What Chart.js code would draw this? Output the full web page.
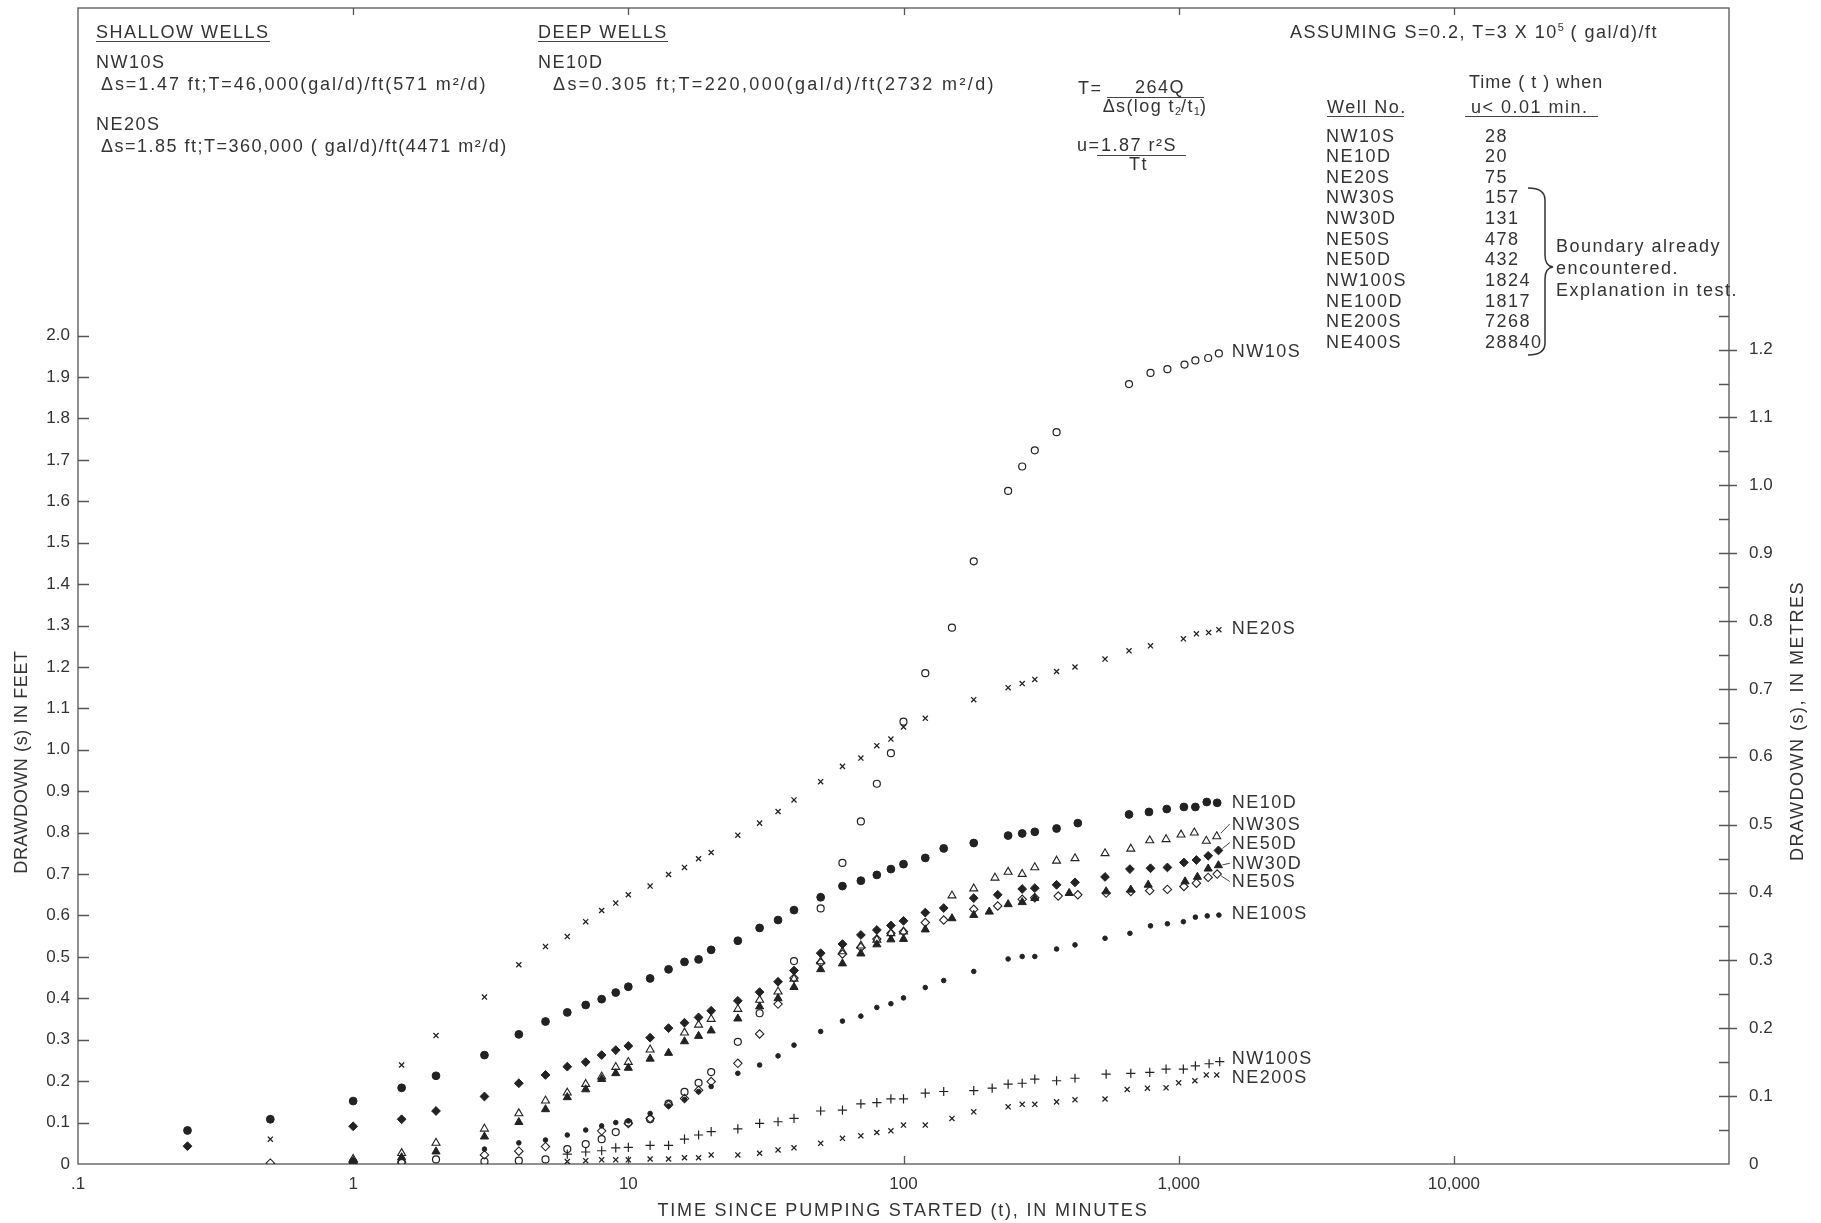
<!DOCTYPE html>
<html>
<head>
<meta charset="utf-8">
<title>Drawdown vs time since pumping started</title>
<script src="https://cdn.jsdelivr.net/npm/chart.js@4.4.1/dist/chart.umd.min.js"></script>
<style>
  html, body { margin: 0; padding: 0; background: #fff; }
  #wrap { position: relative; width: 1821px; height: 1223px; overflow: hidden; }
  #c { position: absolute; left: 0; top: 0; }
  .t { position: absolute; font-family: 'Liberation Sans', Arial, sans-serif; font-size: 18px;
       line-height: 18px; letter-spacing: 1.5px; color: #333; white-space: pre; }
  .u { border-bottom: 1.3px solid #444; }
  .line { position: absolute; height: 0; border-top: 1.3px solid #444; }
  sub { font-size: 11px; vertical-align: -3px; line-height: 0; letter-spacing: 0; }
  sup { font-size: 11px; vertical-align: 7px; line-height: 0; letter-spacing: 0; }
  svg { position: absolute; left: 0; top: 0; }
</style>
</head>
<body>
<div id="wrap">
  <canvas id="c" width="1821" height="1223"></canvas>

  <!-- shallow wells -->
  <div class="t u" style="left:96px;top:23px;">SHALLOW WELLS</div>
  <div class="t" style="left:96px;top:53px;">NW10S</div>
  <div class="t" style="left:101px;top:75px;letter-spacing:1.9px;">Δs=1.47 ft;T=46,000(gal/d)/ft(571 m²/d)</div>
  <div class="t" style="left:96px;top:115px;">NE20S</div>
  <div class="t" style="left:101px;top:137px;">Δs=1.85 ft;T=360,000 ( gal/d)/ft(4471 m²/d)</div>

  <!-- deep wells -->
  <div class="t u" style="left:538px;top:23px;">DEEP WELLS</div>
  <div class="t" style="left:538px;top:53px;">NE10D</div>
  <div class="t" style="left:553px;top:75px;letter-spacing:2.4px;">Δs=0.305 ft;T=220,000(gal/d)/ft(2732 m²/d)</div>

  <!-- formulas -->
  <div class="t" style="left:1078px;top:79px;">T=</div>
  <div class="t" style="left:1112px;top:78px;width:96px;text-align:center;">264Q</div>
  <div class="line" style="left:1107px;top:97px;width:97px;"></div>
  <div class="t" style="left:1094px;top:97px;width:122px;text-align:center;letter-spacing:1.4px;">Δs(log t<sub>2</sub>/t<sub>1</sub>)</div>
  <div class="t" style="left:1077px;top:136px;">u=</div>
  <div class="t" style="left:1101px;top:136px;">1.87 r²S</div>
  <div class="line" style="left:1097px;top:155px;width:89px;"></div>
  <div class="t" style="left:1094px;top:155px;width:89px;text-align:center;">Tt</div>

  <!-- assumptions and table -->
  <div class="t" style="left:1290px;top:23px;">ASSUMING S=0.2, T=3 X 10<sup>5</sup> ( gal/d)/ft</div>
  <div class="t" style="left:1469px;top:73px;letter-spacing:1px;">Time ( t ) when</div>
  <div class="t u" style="left:1327px;top:98px;width:77px;">Well No.</div>
  <div class="t u" style="left:1465px;top:98px;width:127px;padding-left:6px;">u&lt; 0.01 min.</div>
  <div id="table"></div>
  <div class="t" style="left:1556px;top:237px;">Boundary already</div>
  <div class="t" style="left:1556px;top:259px;">encountered.</div>
  <div class="t" style="left:1556px;top:281px;">Explanation in test.</div>
  <svg width="1821" height="1223">
    <path d="M1528,188 Q1545,188 1545,200 L1545,255 Q1545,266 1553,267 Q1545,268 1545,279 L1545,343 Q1545,355 1528,355"
          fill="none" stroke="#333" stroke-width="1.5"/>
  </svg>
</div>

<script>
// ---- well table ----
const tableWells = ['NW10S', 'NE10D', 'NE20S', 'NW30S', 'NW30D', 'NE50S', 'NE50D', 'NW100S', 'NE100D', 'NE200S', 'NE400S'];
const tableTimes = ['28', '20', '75', '157', '131', '478', '432', '1824', '1817', '7268', '28840'];

// ---- axis ticks ----
const xTickValues = [0.1, 1, 10, 100, 1000, 10000, 100000];
const xTickLabels = ['.1', '1', '10', '100', '1,000', '10,000', ''];
const feetTicks = [0, 0.1, 0.2, 0.3, 0.4, 0.5, 0.6, 0.7, 0.8, 0.9, 1.0, 1.1, 1.2, 1.3, 1.4, 1.5, 1.6, 1.7, 1.8, 1.9, 2.0];
const metreTicks = [0, 0.1, 0.2, 0.3, 0.4, 0.5, 0.6, 0.7, 0.8, 0.9, 1.0, 1.1, 1.2];

// ---- observations: time since pumping started (min) and drawdown (ft) ----
const tNW10S = [1, 1.5, 2, 3, 4, 5, 6, 7, 8, 9, 10, 12, 14, 16, 18, 20, 25, 30, 40, 50, 60, 70, 80, 90, 100, 120, 150, 180, 240, 270, 300, 360, 660, 790, 910, 1050, 1150, 1280, 1400];
const sNW10S = [0.005, 0.005, 0.011, 0.006, 0.008, 0.011, 0.036, 0.048, 0.060, 0.077, 0.100, 0.108, 0.146, 0.174, 0.196, 0.222, 0.295, 0.364, 0.490, 0.617, 0.727, 0.827, 0.918, 0.992, 1.068, 1.185, 1.295, 1.455, 1.625, 1.684, 1.723, 1.767, 1.883, 1.910, 1.919, 1.930, 1.940, 1.946, 1.957];

const tNE20S = [0.5, 1.5, 2, 3, 4, 5, 6, 7, 8, 9, 10, 12, 14, 16, 18, 20, 25, 30, 35, 40, 50, 60, 70, 80, 90, 100, 120, 180, 240, 270, 300, 360, 420, 540, 660, 790, 1040, 1160, 1285, 1400];
const sNE20S = [0.060, 0.239, 0.310, 0.403, 0.481, 0.525, 0.549, 0.585, 0.612, 0.630, 0.650, 0.671, 0.699, 0.716, 0.737, 0.752, 0.794, 0.823, 0.851, 0.879, 0.923, 0.960, 0.980, 1.010, 1.026, 1.055, 1.076, 1.121, 1.150, 1.160, 1.170, 1.189, 1.200, 1.219, 1.239, 1.251, 1.268, 1.280, 1.283, 1.290];

const tNE10D = [0.25, 0.5, 1, 1.5, 2, 3, 4, 5, 6, 7, 8, 9, 10, 12, 14, 16, 18, 20, 25, 30, 35, 40, 50, 60, 70, 80, 90, 100, 120, 140, 180, 240, 270, 300, 360, 430, 660, 780, 905, 1045, 1150, 1265, 1380];
const sNE10D = [0.081, 0.108, 0.152, 0.184, 0.213, 0.263, 0.313, 0.344, 0.366, 0.384, 0.398, 0.414, 0.428, 0.448, 0.470, 0.488, 0.494, 0.517, 0.539, 0.570, 0.589, 0.613, 0.644, 0.671, 0.684, 0.698, 0.712, 0.724, 0.739, 0.762, 0.775, 0.793, 0.798, 0.802, 0.810, 0.823, 0.844, 0.850, 0.857, 0.862, 0.862, 0.874, 0.872];

const tNW30S = [1, 1.5, 2, 3, 4, 5, 6, 7, 8, 9, 10, 12, 16, 18, 20, 25, 30, 35, 40, 50, 60, 70, 80, 90, 100, 150, 180, 215, 240, 270, 300, 360, 420, 540, 670, 785, 900, 1020, 1140, 1260, 1375];
const sNW30S = [0.012, 0.026, 0.051, 0.085, 0.122, 0.153, 0.172, 0.193, 0.211, 0.234, 0.246, 0.276, 0.317, 0.336, 0.350, 0.374, 0.396, 0.416, 0.447, 0.489, 0.513, 0.527, 0.541, 0.557, 0.561, 0.648, 0.665, 0.691, 0.705, 0.700, 0.716, 0.732, 0.738, 0.750, 0.761, 0.781, 0.784, 0.795, 0.800, 0.780, 0.791];

const tNE50D = [0.25, 1, 1.5, 2, 3, 4, 5, 6, 7, 8, 9, 10, 12, 14, 16, 18, 20, 25, 30, 35, 40, 50, 60, 70, 80, 90, 100, 120, 140, 180, 220, 270, 300, 360, 420, 540, 665, 790, 910, 1045, 1160, 1280, 1395];
const sNE50D = [0.043, 0.091, 0.108, 0.128, 0.163, 0.195, 0.215, 0.235, 0.246, 0.263, 0.275, 0.285, 0.305, 0.328, 0.341, 0.354, 0.370, 0.394, 0.415, 0.440, 0.467, 0.509, 0.531, 0.553, 0.565, 0.576, 0.587, 0.607, 0.618, 0.642, 0.650, 0.664, 0.666, 0.674, 0.680, 0.693, 0.712, 0.714, 0.716, 0.728, 0.734, 0.744, 0.757];

const tNW30D = [1, 1.5, 2, 3, 4, 5, 6, 7, 8, 9, 10, 12, 14, 16, 18, 20, 25, 30, 35, 40, 50, 60, 70, 80, 90, 100, 120, 150, 180, 205, 240, 270, 300, 400, 545, 670, 775, 1055, 1170, 1280, 1395];
const sNW30D = [0.006, 0.016, 0.030, 0.066, 0.101, 0.132, 0.161, 0.180, 0.205, 0.219, 0.232, 0.254, 0.268, 0.296, 0.309, 0.322, 0.351, 0.380, 0.400, 0.427, 0.470, 0.484, 0.508, 0.530, 0.542, 0.543, 0.566, 0.593, 0.601, 0.609, 0.627, 0.632, 0.642, 0.654, 0.658, 0.662, 0.674, 0.682, 0.693, 0.713, 0.721];

const tNE50S = [0.5, 1, 1.5, 3, 4, 5, 8, 10, 12, 14, 16, 18, 20, 25, 30, 35, 40, 50, 60, 70, 80, 90, 100, 120, 140, 180, 220, 270, 300, 365, 430, 545, 670, 785, 910, 1045, 1160, 1280, 1380];
const sNE50S = [0.002, 0.004, 0.004, 0.022, 0.031, 0.042, 0.080, 0.098, 0.110, 0.143, 0.158, 0.178, 0.199, 0.243, 0.314, 0.386, 0.449, 0.486, 0.507, 0.523, 0.543, 0.557, 0.561, 0.583, 0.589, 0.615, 0.623, 0.639, 0.643, 0.647, 0.650, 0.654, 0.658, 0.660, 0.663, 0.670, 0.678, 0.692, 0.700];

const tNE100S = [3, 4, 5, 6, 7, 8, 9, 10, 12, 14, 16, 18, 20, 25, 30, 35, 40, 50, 60, 70, 80, 90, 100, 120, 140, 180, 240, 270, 300, 360, 420, 540, 665, 790, 910, 1040, 1150, 1270, 1400];
const sNE100S = [0.036, 0.051, 0.058, 0.070, 0.082, 0.092, 0.100, 0.104, 0.122, 0.140, 0.156, 0.175, 0.187, 0.219, 0.239, 0.261, 0.287, 0.320, 0.345, 0.357, 0.378, 0.387, 0.401, 0.426, 0.443, 0.465, 0.495, 0.501, 0.501, 0.519, 0.529, 0.545, 0.557, 0.575, 0.580, 0.585, 0.596, 0.599, 0.601];

const tNW100S = [6, 7, 8, 9, 10, 12, 14, 16, 18, 20, 25, 30, 35, 40, 50, 60, 70, 80, 90, 100, 120, 140, 180, 210, 240, 270, 300, 360, 420, 545, 670, 785, 900, 1040, 1150, 1290, 1410];
const sNW100S = [0.024, 0.029, 0.032, 0.039, 0.040, 0.045, 0.045, 0.060, 0.070, 0.078, 0.085, 0.098, 0.102, 0.110, 0.128, 0.130, 0.145, 0.148, 0.157, 0.157, 0.171, 0.175, 0.177, 0.183, 0.193, 0.195, 0.205, 0.201, 0.207, 0.217, 0.219, 0.221, 0.229, 0.229, 0.237, 0.242, 0.247];

const tNE200S = [6, 7, 8, 9, 10, 12, 14, 16, 18, 20, 25, 30, 35, 40, 50, 60, 70, 80, 90, 100, 120, 150, 180, 240, 270, 300, 360, 420, 540, 650, 770, 900, 1000, 1145, 1260, 1375];
const sNE200S = [0.006, 0.008, 0.010, 0.010, 0.010, 0.012, 0.012, 0.015, 0.015, 0.022, 0.022, 0.026, 0.034, 0.039, 0.050, 0.062, 0.068, 0.076, 0.080, 0.094, 0.094, 0.110, 0.126, 0.138, 0.144, 0.144, 0.150, 0.155, 0.157, 0.180, 0.183, 0.184, 0.196, 0.201, 0.215, 0.215];

// ---- table rows ----
const tableEl = document.getElementById('table');
tableWells.forEach((w, i) => {
  const top = 126.5 + i * 20.66;
  const a = document.createElement('div');
  a.className = 't'; a.style.left = '1326px'; a.style.top = top + 'px'; a.textContent = w;
  const b = document.createElement('div');
  b.className = 't'; b.style.left = '1485px'; b.style.top = top + 'px'; b.textContent = tableTimes[i];
  tableEl.appendChild(a); tableEl.appendChild(b);
});

// ---- marker styles and curve labels ----
const INK = '#222';
const FONT = "'Liberation Sans', Arial, sans-serif";
const LABEL_T = 1560;   // time at which the curve names start
const series = [
  { name: 'NW10S',  t: tNW10S,  s: sNW10S,  style: 'circle',   r: 3.5, open: true,  bw: 1.2, labelAt: 1.963 },
  { name: 'NE20S',  t: tNE20S,  s: sNE20S,  style: 'crossRot', r: 3.6, open: true,  bw: 1.3, labelAt: 1.294 },
  { name: 'NE10D',  t: tNE10D,  s: sNE10D,  style: 'circle',   r: 3.9, open: false, bw: 1,   labelAt: 0.875 },
  { name: 'NW30S',  t: tNW30S,  s: sNW30S,  style: 'triangle', r: 4.6, open: true,  bw: 1.1, labelAt: 0.821, leader: true },
  { name: 'NE50D',  t: tNE50D,  s: sNE50D,  style: 'rectRot',  r: 4.4, open: false, bw: 1,   labelAt: 0.776, leader: true },
  { name: 'NW30D',  t: tNW30D,  s: sNW30D,  style: 'triangle', r: 4.7, open: false, bw: 1,   labelAt: 0.726, leader: true },
  { name: 'NE50S',  t: tNE50S,  s: sNE50S,  style: 'rectRot',  r: 4.2, open: true,  bw: 1.1, labelAt: 0.682, leader: true },
  { name: 'NE100S', t: tNE100S, s: sNE100S, style: 'circle',   r: 2.3, open: false, bw: 1,   labelAt: 0.605 },
  { name: 'NW100S', t: tNW100S, s: sNW100S, style: 'cross',    r: 4.6, open: true,  bw: 1.2, labelAt: 0.255 },
  { name: 'NE200S', t: tNE200S, s: sNE200S, style: 'crossRot', r: 3.6, open: true,  bw: 1.3, labelAt: 0.211 }
];

const datasets = series.map(sr => ({
  label: sr.name,
  data: sr.t.map((t, i) => ({ x: t, y: sr.s[i] })),
  pointStyle: sr.style,
  pointRadius: sr.r,
  pointBorderWidth: sr.bw,
  pointBorderColor: INK,
  pointBackgroundColor: sr.open ? 'rgba(255,255,255,0)' : INK,
  showLine: false,
  yAxisID: 'y'
}));

// frame, inward tick marks on all four sides, curve names and axis titles
const framePlugin = {
  id: 'frame',
  beforeDatasetsDraw(chart) {
    const { ctx, chartArea: a, scales } = chart;
    const x = scales.x, y = scales.y, y2 = scales.y2;
    ctx.save();
    ctx.strokeStyle = '#555';
    ctx.lineWidth = 1.3;
    ctx.strokeRect(a.left, a.top, a.right - a.left, a.bottom - a.top);
    ctx.beginPath();
    feetTicks.forEach(v => {
      if (v === 0) return;
      const py = Math.round(y.getPixelForValue(v)) + 0.5;
      ctx.moveTo(a.left, py); ctx.lineTo(a.left + 11, py);
    });
    metreTicks.forEach(v => {
      const py = Math.round(y2.getPixelForValue(v)) + 0.5;
      if (v !== 0) { ctx.moveTo(a.right - 10, py); ctx.lineTo(a.right + 8, py); }
      const pm = Math.round(y2.getPixelForValue(v + 0.05)) + 0.5;
      ctx.moveTo(a.right - 10, pm); ctx.lineTo(a.right, pm);
    });
    xTickValues.forEach(v => {
      if (v === xTickValues[0] || v === xTickValues[xTickValues.length - 1]) return;
      const px = Math.round(x.getPixelForValue(v)) + 0.5;
      ctx.moveTo(px, a.bottom); ctx.lineTo(px, a.bottom - 8);
      ctx.moveTo(px, a.top); ctx.lineTo(px, a.top + 7);
    });
    ctx.stroke();
    ctx.restore();
  },
  afterDatasetsDraw(chart) {
    const { ctx, scales } = chart;
    const x = scales.x, y = scales.y;
    ctx.save();
    ctx.fillStyle = '#333';
    ctx.strokeStyle = '#444';
    ctx.lineWidth = 1;
    ctx.font = '18px ' + FONT;
    ctx.letterSpacing = '1.5px';
    ctx.textBaseline = 'middle';
    ctx.textAlign = 'left';
    const lx = x.getPixelForValue(LABEL_T);
    series.forEach(sr => {
      const ly = y.getPixelForValue(sr.labelAt);
      ctx.fillText(sr.name, lx, ly + 1);
      if (sr.leader) {
        const n = sr.t.length - 1;
        const px = x.getPixelForValue(sr.t[n]);
        const py = y.getPixelForValue(sr.s[n]);
        ctx.beginPath();
        ctx.moveTo(px + 4, py - (py - ly) * 0.25);
        ctx.lineTo(lx - 2, ly);
        ctx.stroke();
      }
    });
    // axis titles
    ctx.textAlign = 'center';
    ctx.letterSpacing = '1.8px';
    ctx.fillText('TIME SINCE PUMPING STARTED (t), IN MINUTES', 903, 1211);
    ctx.save();
    ctx.translate(22, 762);
    ctx.rotate(-Math.PI / 2);
    ctx.letterSpacing = '0.6px';
    ctx.fillText('DRAWDOWN (s) IN FEET', 0, 0);
    ctx.restore();
    ctx.save();
    ctx.translate(1798, 721);
    ctx.rotate(-Math.PI / 2);
    ctx.letterSpacing = '1.5px';
    ctx.fillText('DRAWDOWN (s), IN METRES', 0, 0);
    ctx.restore();
    ctx.restore();
  }
};

const tickFont = { family: FONT, size: 17 };
const fmt = v => (v === 0 ? '0' : v.toFixed(1));

new Chart(document.getElementById('c'), {
  type: 'scatter',
  data: { datasets },
  options: {
    responsive: false,
    animation: false,
    devicePixelRatio: 1,
    layout: { padding: { top: 8, left: 0, right: 0, bottom: 0 } },
    plugins: { legend: { display: false }, tooltip: { enabled: false } },
    events: [],
    scales: {
      x: {
        type: 'logarithmic',
        position: 'bottom',
        min: 0.1,
        max: 100000,
        grid: { display: false, drawTicks: false },
        border: { display: false },
        ticks: {
          autoSkip: false, maxRotation: 0, padding: 10, color: '#333', font: tickFont,
          callback: (v, i) => xTickLabels[i]
        },
        afterBuildTicks: s => { s.ticks = xTickValues.map(v => ({ value: v })); },
        afterFit: s => { s.height = 59; s.paddingLeft = 0; s.paddingRight = 0; }
      },
      y: {
        type: 'linear',
        position: 'left',
        min: 0,
        max: 2.791,
        grid: { display: false, drawTicks: false },
        border: { display: false },
        ticks: { padding: 8, color: '#333', font: tickFont, callback: v => fmt(v) },
        afterBuildTicks: s => { s.ticks = feetTicks.map(v => ({ value: v })); },
        afterFit: s => { s.width = 78; s.paddingTop = 0; s.paddingBottom = 0; }
      },
      y2: {
        type: 'linear',
        position: 'right',
        min: 0,
        max: 1.7033,
        grid: { display: false, drawTicks: false },
        border: { display: false },
        ticks: { padding: 20, color: '#333', font: tickFont, callback: v => fmt(v) },
        afterBuildTicks: s => { s.ticks = metreTicks.map(v => ({ value: v })); },
        afterFit: s => { s.width = 92; s.paddingTop = 0; s.paddingBottom = 0; }
      }
    }
  },
  plugins: [framePlugin]
});
</script>
</body>
</html>
